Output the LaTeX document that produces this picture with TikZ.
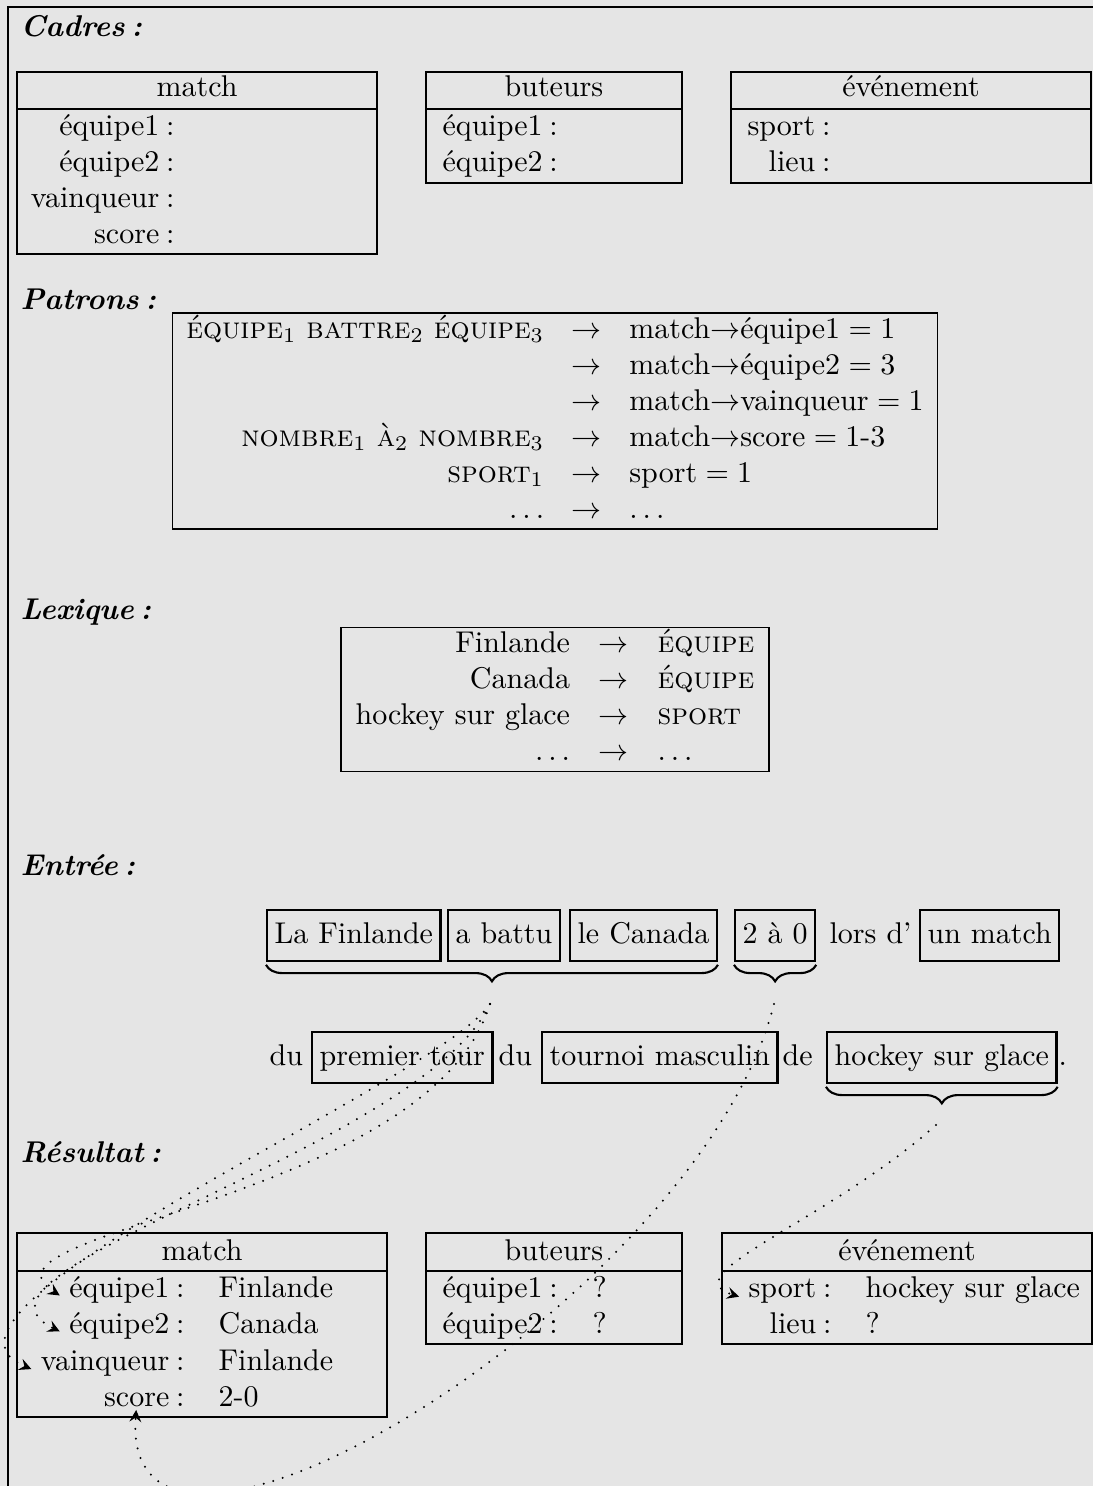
\documentclass[tikz,border=0pt]{standalone}
\usetikzlibrary{decorations.pathreplacing}

\begin{document}
\begin{tikzpicture}[x=0.3333pt,y=0.3333pt,yscale=-1,xscale=1,
	titre/.style={anchor=base west,inner sep=0pt,font=\bfseries\itshape},
	champ/.style={inner sep=0pt},
	cadre/.style={line width=0.6pt},
	mot/.style={draw,line width=0.75pt,anchor=base west,inner xsep=2.5pt,inner ysep=2.4pt,text height=8.5pt,text depth=3.5pt},
	accol/.style={decorate,decoration={brace,mirror,amplitude=5.5pt},line width=0.7pt},
	lien/.style={line width=0.75pt,line cap=round,dash pattern=on 0pt off 3.3pt,-stealth}]

\useasboundingbox (0,0) rectangle (1093,1486);
\fill [gray!20] (0,0) rectangle (1093,1486);
\draw [cadre] (8,1486) -- (8,7) -- (1093,7) ;

% Text Node
\draw (20,36) node [titre] (tcadres) {Cadres\::};

%Shape: Rectangle [match]
\draw [cadre] (17,72) rectangle (377,254) ;
\draw [cadre] (17,109) -- (377,109) ;
\draw (197,97) node [anchor=base][champ] (cmatch) {match};
\draw (175,135) node [anchor=base east][champ] (cma) {équipe1\::};
\draw (175,171) node [anchor=base east][champ] (cmb) {équipe2\::};
\draw (175,207) node [anchor=base east][champ] (cmc) {vainqueur\::};
\draw (175,243) node [anchor=base east][champ] (cmd) {score\::};

%Shape: Rectangle [buteurs]
\draw [cadre] (426,72) rectangle (682,183) ;
\draw [cadre] (426,109) -- (682,109) ;
\draw (554,97) node [anchor=base][champ] (cbut) {buteurs};
\draw (442,135) node [anchor=base west][champ] (cba) {équipe1\::};
\draw (442,171) node [anchor=base west][champ] (cbb) {équipe2\::};

%Shape: Rectangle [evenement]
\draw [cadre] (731,72) rectangle (1091,183) ;
\draw [cadre] (731,109) -- (1091,109) ;
\draw (911,97) node [anchor=base][champ] (cev) {événement};
\draw (831,135) node [anchor=base east][champ] (cea) {sport\::};
\draw (831,171) node [anchor=base east][champ] (ceb) {lieu\::};

% Text Node
\draw (20,309) node [titre] (tpatrons) {Patrons\::};
\draw (555,421) node [draw,cadre,inner sep=0pt] (patrons) {\setlength{\tabcolsep}{4.6pt}\begin{tabular}{rcl}
\textsc{équipe}$_1$ \textsc{battre}$_2$ \textsc{équipe}$_3$ & $\rightarrow$ & match$\rightarrow$équipe1${}={}$1\\
 & $\rightarrow$ & match$\rightarrow$équipe2${}={}$3\\
 & $\rightarrow$ & match$\rightarrow$vainqueur${}={}$1\\
\textsc{nombre}$_1$ \textsc{à}$_2$ \textsc{nombre}$_3$ & $\rightarrow$ & match$\rightarrow$score${}={}$1-3\\
\textsc{sport}$_1$ & $\rightarrow$ & sport${}={}$1\\
$\ldots$ & $\rightarrow$ & $\ldots$
\end{tabular}};

% Text Node
\draw (20,619) node [titre] (tlexique) {Lexique\::};
\draw (555,699.5) node [draw,cadre,inner sep=0pt] (lexique) {\setlength{\tabcolsep}{4.8pt}\begin{tabular}{rcl}
Finlande & $\rightarrow$ & \textsc{équipe}\\
Canada & $\rightarrow$ & \textsc{équipe}\\
hockey sur glace & $\rightarrow$ & \textsc{sport}\\
$\ldots$ & $\rightarrow$ & $\ldots$
\end{tabular}};

% Text Node
\draw (20,875) node [titre] (tentree) {Entrée\::};

% Text Node [phrase, ligne 1]
\draw (266,943) node [mot] (fin) {La Finlande};
\draw (447,943) node [mot] (bat) {a battu};
\draw (569,943) node [mot] (can) {le Canada};
\draw (734,943) node [mot] (deux) {2 à 0};
\draw (829,943) node [anchor=base west][champ] (lors) {lors d'};
\draw (919,943) node [mot] (unm) {un match};
% Text Node [phrase, ligne 2]
\draw (269,1065) node [anchor=base west][champ] (dua) {du};
\draw (311,1065) node [mot] (prem) {premier tour};
\draw (498,1065) node [anchor=base west][champ] (dub) {du};
\draw (541,1065) node [mot] (tourn) {tournoi masculin};
\draw (782,1065) node [anchor=base west][champ] (de) {de};
\draw (826,1065) node [mot] (hock) {hockey sur glace};
\draw (1058,1065) node [anchor=base west][champ] (fpt) {.};

%Braces (yscale=-1: a positive yshift goes down)
\draw [accol] ([yshift=1pt]fin.south west) -- ([yshift=1pt]can.south east) ;
\draw [accol] ([yshift=1pt]deux.south west) -- ([yshift=1pt]deux.south east) ;
\draw [accol] ([yshift=1pt]hock.south west) -- ([yshift=1pt]hock.south east) ;
\coordinate (pa) at (490,1004);
\coordinate (pb) at (774,1004);
\coordinate (pc) at (936,1125);

% Text Node
\draw (20,1162) node [titre] (tresultat) {Résultat\::};

%Shape: Rectangle [match]
\draw [cadre] (17,1233) rectangle (387,1417) ;
\draw [cadre] (17,1271) -- (387,1271) ;
\draw (202,1260) node [anchor=base][champ] (rmatch) {match};
\draw (185,1297) node [anchor=base east][champ] (rma) {équipe1\::};
\draw (185,1333) node [anchor=base east][champ] (rmb) {équipe2\::};
\draw (185,1370) node [anchor=base east][champ] (rmc) {vainqueur\::};
\draw (185,1406) node [anchor=base east][champ] (rmd) {score\::};
\draw (218,1297) node [anchor=base west][champ] (vma) {Finlande};
\draw (218,1333) node [anchor=base west][champ] (vmb) {Canada};
\draw (218,1370) node [anchor=base west][champ] (vmc) {Finlande};
\draw (218,1406) node [anchor=base west][champ] (vmd) {2-0};

%Shape: Rectangle [buteurs]
\draw [cadre] (426,1233) rectangle (682,1344) ;
\draw [cadre] (426,1271) -- (682,1271) ;
\draw (554,1260) node [anchor=base][champ] (rbut) {buteurs};
\draw (442,1297) node [anchor=base west][champ] (rba) {équipe1\::};
\draw (442,1333) node [anchor=base west][champ] (rbb) {équipe2\::};
\draw (592,1297) node [anchor=base west][champ] (vba) {?};
\draw (592,1333) node [anchor=base west][champ] (vbb) {?};

%Shape: Rectangle [evenement]
\draw [cadre] (722,1233) rectangle (1092,1344) ;
\draw [cadre] (722,1271) -- (1092,1271) ;
\draw (907,1260) node [anchor=base][champ] (rev) {événement};
\draw (832,1297) node [anchor=base east][champ] (rea) {sport\::};
\draw (832,1333) node [anchor=base east][champ] (reb) {lieu\::};
\draw (865,1297) node [anchor=base west][champ] (vea) {hockey sur glace};
\draw (865,1333) node [anchor=base west][champ] (veb) {?};

%Curve Lines
\draw [lien] (pa) .. controls +(-61,197) and +(-100,-64) .. ([xshift=-3pt,yshift=2pt]rma.west) ;
\draw [lien] (pa) .. controls +(-69,145) and +(-124,-61) .. ([xshift=-3pt,yshift=2pt]rmb.west) ;
\draw [lien] (pa) .. controls +(-51,77) and +(-137,-58) .. ([xshift=-3pt,yshift=2pt]rmc.west) ;
\draw [lien] (pb) .. controls +(-74,295) and +(-17,241) .. ([xshift=-2.7pt,yshift=1pt]rmd.south) ;
\draw [lien] (pc) .. controls +(-106,95) and +(-68,-22) .. ([xshift=-3pt,yshift=2pt]rea.west) ;

\end{tikzpicture}
\end{document}
